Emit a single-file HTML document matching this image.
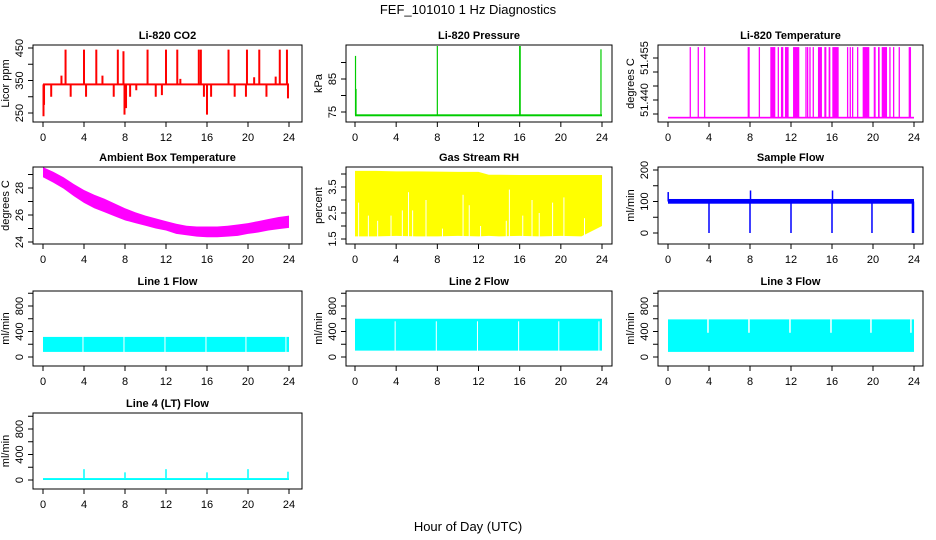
<!DOCTYPE html>
<html><head><meta charset="utf-8"><style>
html,body{margin:0;padding:0;background:#fff;}
svg{display:block;font-family:"Liberation Sans",sans-serif;}
</style></head><body>
<svg id="chart" width="936" height="540" viewBox="0 0 936 540" xmlns="http://www.w3.org/2000/svg">
<rect x="0" y="0" width="936" height="540" fill="#fff"/>
<text x="468" y="14" text-anchor="middle" font-size="13">FEF_101010  1 Hz Diagnostics</text>
<text x="468" y="531" text-anchor="middle" font-size="13">Hour of Day (UTC)</text>
</svg>
<script>
const xTicks=[0,4,8,12,16,20,24];
// CO2
const co2Base=338;
const co2SpikeHours=[0.05,0.1,0.8,1.8,2.2,2.7,4.0,4.2,5.2,5.8,6.9,7.3,7.85,7.95,8.1,8.5,9.1,10.2,11.0,11.6,12.0,13.1,13.4,15.2,15.4,15.7,16.0,16.4,18.1,18.7,19.8,19.9,20.6,21.1,21.8,22.7,23.1,23.8,23.9];
const co2SpikeVals=[240,275,300,365,445,300,445,300,445,365,300,445,440,245,265,300,320,445,300,305,445,445,355,445,445,300,245,300,445,300,300,445,360,445,300,362,445,445,295];
// Pressure
const presBase=74;
const presSpikeHours=[0.05,0.1,8.0,16.0,16.05,23.9];
const presSpikeVals=[92,82,95,95,95,94];
// Li-820 temperature
const tempLow=51.4337, tempHigh=51.4589;
const tempStarts=[2.11,2.89,3.51,7.77,8.85,9.98,10.7,11.02,11.12,11.41,12.2,13.4,13.56,13.79,14.11,14.63,15.25,15.67,16.03,17.46,17.72,17.95,18.44,18.99,20.07,20.49,20.85,21.59,21.95,22.5,23.48];
const tempEnds=[2.13,2.91,3.64,7.97,8.87,10.47,10.72,11.04,11.14,11.77,12.81,13.42,13.58,13.81,14.13,15.02,15.45,15.84,16.65,17.48,17.74,17.97,18.46,19.64,20.26,20.65,21.37,21.61,21.97,22.52,23.71];
// Ambient box temperature (hourly envelope)
const ambHours=[0,1,2,3,4,5,6,7,8,9,10,11,12,13,14,15,16,17,18,19,20,21,22,23,24];
const ambHi=[29.55,29.2,28.8,28.3,27.85,27.5,27.2,26.85,26.5,26.2,25.95,25.75,25.55,25.35,25.2,25.15,25.15,25.15,25.2,25.3,25.4,25.55,25.7,25.85,25.95];
const ambLo=[28.8,28.4,27.95,27.4,26.9,26.5,26.2,25.9,25.6,25.4,25.2,25.0,24.85,24.6,24.5,24.4,24.35,24.35,24.4,24.45,24.6,24.7,24.85,24.95,25.05];
// Gas stream RH
const rhHours=[0,2,4,6,8,10,12,13,14,16,18,20,22,24];
const rhHi=[4.12,4.12,4.1,4.1,4.09,4.08,4.08,3.97,3.97,3.96,3.96,3.96,3.96,3.96];
const rhLo=[1.6,1.6,1.62,1.6,1.6,1.62,1.6,1.62,1.6,1.62,1.6,1.62,1.6,2.0];
const rhGapHours=[0.35,1.3,2.2,3.5,4.6,5.2,5.6,6.9,8.5,10.5,11.1,12.2,14.7,15.0,16.3,17.2,17.9,19.2,20.3,22.3];
const rhGapVals=[2.9,2.4,2.2,2.4,2.6,3.3,2.6,3.0,1.9,3.2,2.8,2.0,2.2,3.4,2.4,3.0,2.5,2.9,3.1,2.3];
// Sample flow
const sfLo=93, sfHi=108;
const sfSpikeHours=[0.02,4.0,8.0,8.05,12.0,16.0,16.05,19.9,23.85,23.95];
const sfSpikeVals=[130,0,0,135,0,0,135,0,0,0];
// Line flows
const l1Lo=80, l1Hi=315;
const l1GapHours=[3.9,7.9,11.9,15.9,19.8,23.7];
const l2Lo=100, l2Hi=600;
const l2GapHours=[3.9,7.9,11.9,15.9,19.8,23.7];
const l3Lo=80, l3Mid=380, l3Hi=590;
const l3GapHours=[3.9,7.9,11.9,15.9,19.8,23.7];
const l4Lo=0, l4Hi=30;
const l4SpikeHours=[4.0,8.0,12.0,16.0,20.0,23.9];
const l4SpikeVals=[170,120,170,120,170,130];

const NS="http://www.w3.org/2000/svg";
const svg=document.getElementById('chart');
function mk(tag,attrs,parent,name){
  const el=document.createElementNS(NS,tag);
  for(const k in attrs) el.setAttribute(k,attrs[k]);
  
  
  (parent||svg).appendChild(el);
  return el;
}
const cols=[{x0:43,x24:289,bl:33,br:302},{x0:355,x24:602,bl:346,br:612},{x0:668,x24:914,bl:658,br:923}];
const rows=[{t:45,b:122},{t:167,b:244},{t:291,b:366},{t:413,b:489}];

function panel(c,r,title,ylab,v1,p1,v2,p2,ticks,labels,fmt,slug){
  const col=cols[c],row=rows[r];
  const g=mk('g',{},svg,slug+'-panel');
  const xs=h=>col.x0+(col.x24-col.x0)*h/24;
  const ys=v=>p1+(p2-p1)*(v-v1)/(v2-v1);
  const plot=mk('g',{},g,slug+'-series');
  mk('text',{x:(col.bl+col.br)/2,y:row.t-6,'text-anchor':'middle','font-size':11,'font-weight':'bold'},g,slug+'-title').textContent=title;
  mk('rect',{x:col.bl,y:row.t,width:col.br-col.bl,height:row.b-row.t,fill:'none',stroke:'#000','stroke-width':1},g,slug+'-plot-box');
  const xa=mk('g',{},g,slug+'-x-axis');
  mk('line',{x1:xs(0),x2:xs(24),y1:row.b,y2:row.b,stroke:'#000'},xa,'x-axis-line');
  xTicks.forEach(h=>{
    mk('line',{x1:xs(h),x2:xs(h),y1:row.b,y2:row.b+5,stroke:'#000'},xa,'x-tick');
    mk('text',{x:xs(h),y:row.b+19,'text-anchor':'middle','font-size':11},xa,'x-tick-label').textContent=h;
  });
  const ya=mk('g',{},g,slug+'-y-axis');
  mk('line',{x1:col.bl,x2:col.bl,y1:ys(ticks[0]),y2:ys(ticks[ticks.length-1]),stroke:'#000'},ya,'y-axis-line');
  ticks.forEach(v=>{
    const y=ys(v);
    mk('line',{x1:col.bl-5,x2:col.bl,y1:y,y2:y,stroke:'#000'},ya,'y-tick');
  });
  labels.forEach(v=>{
    const y=ys(v);
    const t=mk('text',{x:col.bl-10,y:y,'text-anchor':'middle','font-size':11,transform:`rotate(-90 ${col.bl-10} ${y})`},ya,'y-tick-label');
    t.textContent=fmt(v);
  });
  const yc=(row.t+row.b)/2,xl=col.bl-24;
  mk('text',{x:xl,y:yc,'text-anchor':'middle','font-size':11,transform:`rotate(-90 ${xl} ${yc})`},g,slug+'-y-axis-title').textContent=ylab;
  return {xs,ys,plot,row,col};
}
function vline(p,h,a,b,color,w,name){
  mk('line',{x1:p.xs(h),x2:p.xs(h),y1:p.ys(a),y2:p.ys(b),stroke:color,'stroke-width':w},p.plot,name);
}
function band(p,lo,hi,color,name,h0,h1){
  h0=h0||0;h1=h1===undefined?24:h1;
  const y1=p.ys(hi),y2=p.ys(lo);
  mk('rect',{x:p.xs(h0),y:y1,width:p.xs(h1)-p.xs(h0),height:y2-y1,fill:color},p.plot,name);
}
const id=v=>String(v);

// CO2
let p=panel(0,0,'Li-820 CO2','Licor ppm',450,48,250,113,[250,300,350,400,450],[250,350,450],id,'co2');
band(p,co2Base-3,co2Base+3,'#ff0000','co2-baseline');
co2SpikeHours.forEach((h,i)=>vline(p,h,co2Base,co2SpikeVals[i],'#ff0000',2,'co2-spike'));

// Pressure
p=panel(1,0,'Li-820 Pressure','kPa',75,112,85,79,[75,80,85,90],[75,85],id,'pressure');
band(p,presBase-0.3,presBase+0.3,'#00cc00','pressure-baseline');
presSpikeHours.forEach((h,i)=>vline(p,h,presBase,presSpikeVals[i],'#00cc00',1.2,'pressure-spike'));

// Temperature
p=panel(2,0,'Li-820 Temperature','degrees C',51.440,100,51.455,58,[51.435,51.440,51.445,51.450,51.455],[51.440,51.455],v=>v.toFixed(3),'li820-temp');
band(p,tempLow-0.0003,tempLow+0.0003,'#ff00ff','temp-baseline');
tempStarts.forEach((s,i)=>{
  const x=p.xs(s),w=Math.max(1.3,p.xs(tempEnds[i])-x);
  mk('rect',{x:x,y:p.ys(tempHigh),width:w,height:p.ys(tempLow)-p.ys(tempHigh),fill:'#ff00ff'},p.plot,'temp-high-interval');
});

// Ambient
p=panel(0,1,'Ambient Box Temperature','degrees C',24,242,28,188,[24,25,26,27,28,29],[24,26,28],id,'ambient');
{
  let pts=ambHours.map((h,i)=>p.xs(h)+','+p.ys(ambHi[i]));
  pts=pts.concat(ambHours.slice().reverse().map((h,j)=>p.xs(h)+','+p.ys(ambLo[ambHours.length-1-j])));
  mk('polygon',{points:pts.join(' '),fill:'#ff00ff'},p.plot,'ambient-band');
}

// RH
p=panel(1,1,'Gas Stream RH','percent',1.5,239,3.5,187,[1.5,2,2.5,3,3.5,4],[1.5,2.5,3.5],id,'rh');
{
  let pts=rhHours.map((h,i)=>p.xs(h)+','+p.ys(rhHi[i]));
  pts=pts.concat(rhHours.slice().reverse().map((h,j)=>p.xs(h)+','+p.ys(rhLo[rhHours.length-1-j])));
  mk('polygon',{points:pts.join(' '),fill:'#ffff00'},p.plot,'rh-band');
  rhGapHours.forEach((h,i)=>vline(p,h,1.55,rhGapVals[i],'#ffffff',1,'rh-gap'));
}

// Sample flow
p=panel(2,1,'Sample Flow','ml/min',0,233,200,170,[0,50,100,150,200],[0,100,200],id,'sample-flow');
band(p,sfLo,sfHi,'#0000ff','sample-flow-band');
sfSpikeHours.forEach((h,i)=>vline(p,h,100,sfSpikeVals[i],'#0000ff',1.5,'sample-flow-spike'));

// Line flows
const lt=[0,200,400,600,800,1000],ll=[0,400,800];
p=panel(0,2,'Line 1 Flow','ml/min',0,357,800,306,lt,ll,id,'line1');
band(p,l1Lo,l1Hi,'#00ffff','line1-band');
l1GapHours.forEach(h=>vline(p,h,l1Lo-5,l1Hi+5,'#ffffff',1,'line1-gap'));

p=panel(1,2,'Line 2 Flow','ml/min',0,357,800,306,lt,ll,id,'line2');
band(p,l2Lo,l2Hi,'#00ffff','line2-band');
l2GapHours.forEach(h=>vline(p,h,l2Lo-5,l2Hi-40,'#ffffff',1,'line2-gap'));

p=panel(2,2,'Line 3 Flow','ml/min',0,357,800,306,lt,ll,id,'line3');
band(p,l3Lo,l3Hi,'#00ffff','line3-band');
l3GapHours.forEach(h=>vline(p,h,l3Mid,l3Hi+5,'#ffffff',1.5,'line3-gap'));

p=panel(0,3,'Line 4 (LT) Flow','ml/min',0,480,800,429,lt,ll,id,'line4');
band(p,l4Lo,l4Hi,'#00ffff','line4-band');
l4SpikeHours.forEach((h,i)=>vline(p,h,l4Hi,l4SpikeVals[i],'#00ffff',1.5,'line4-spike'));
</script>
</body></html>
